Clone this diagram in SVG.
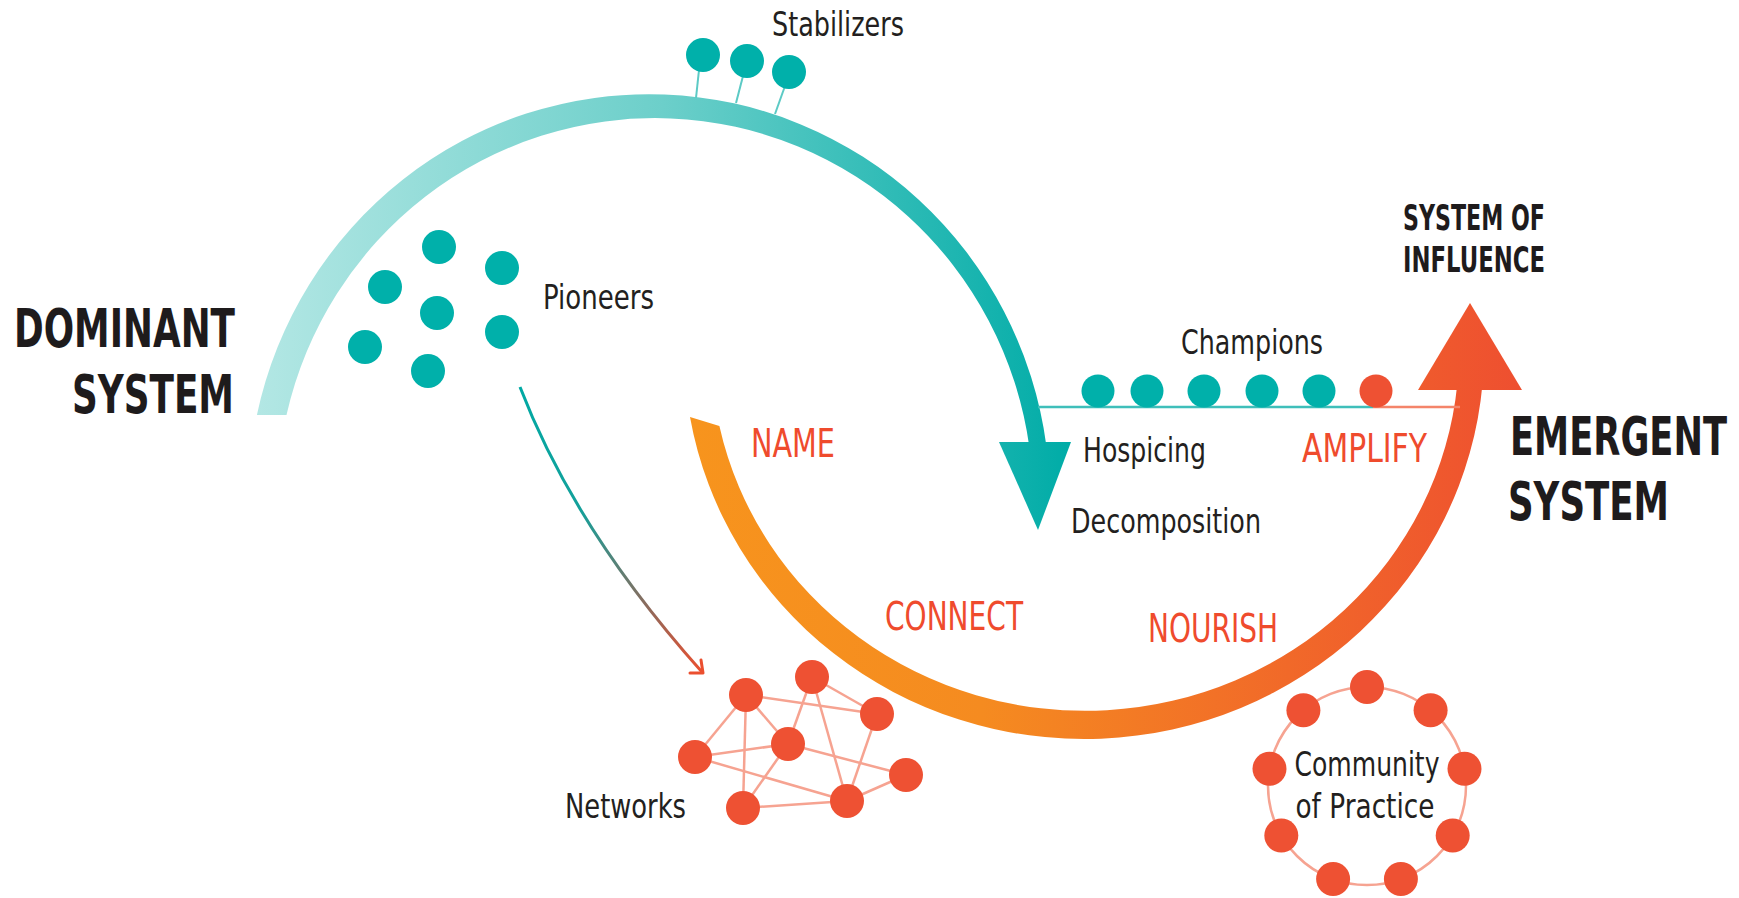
<svg xmlns="http://www.w3.org/2000/svg" width="1739" height="898" viewBox="0 0 1739 898">
<defs>
<linearGradient id="gTeal" gradientUnits="userSpaceOnUse" x1="257" y1="0" x2="1070" y2="0">
<stop offset="0" stop-color="#B3E7E4"/><stop offset="0.5" stop-color="#6CCFCA"/><stop offset="1" stop-color="#00ACA7"/>
</linearGradient>
<linearGradient id="gOrange" gradientUnits="userSpaceOnUse" x1="690" y1="0" x2="1522" y2="0">
<stop offset="0" stop-color="#F7941D"/><stop offset="0.35" stop-color="#F58B20"/><stop offset="1" stop-color="#EE4F30"/>
</linearGradient>
<linearGradient id="gPioneer" gradientUnits="userSpaceOnUse" x1="520" y1="387" x2="702" y2="672">
<stop offset="0" stop-color="#00A9A4"/><stop offset="0.4" stop-color="#14A09A"/><stop offset="0.75" stop-color="#8C6A5C"/><stop offset="1" stop-color="#EB4F2F"/>
</linearGradient>
<style>
.t{fill:#00B0AA}
.r{fill:#EE5133}
.lbl{font-family:"Liberation Sans Narrow","DejaVu Sans Condensed","Liberation Sans",sans-serif;font-size:34px;fill:#231F20}
.red{font-family:"Liberation Sans Narrow","DejaVu Sans Condensed","Liberation Sans",sans-serif;font-size:39px;fill:#EF4B2D}
.big{font-family:"Liberation Sans Narrow","DejaVu Sans Condensed","Liberation Sans",sans-serif;font-size:54px;font-weight:bold;fill:#1E1B1C}
.mid{font-family:"Liberation Sans Narrow","DejaVu Sans Condensed","Liberation Sans",sans-serif;font-size:35px;font-weight:bold;fill:#1E1B1C}
.edge{stroke:#F6A391;stroke-width:2.5;fill:none}
.stem{stroke:#5CCAC5;stroke-width:2;fill:none}
</style>
</defs>
<rect width="1739" height="898" fill="#FFFFFF"/>

<g id="connectors">
<path id="dominant-arc" fill="url(#gTeal)" d="M256.9,415 A401,406 0 0,1 1046.4,446 L1029.2,446 A378,382 0 0,0 286.5,415 Z"/>
<path id="dominant-arrowhead" d="M999,442 L1071,442 L1038,530 Z" fill="url(#gTeal)"/>
<path id="emergent-arc" fill="url(#gOrange)" d="M690,417 A400,389 0 0,0 1482.5,384 L1457.3,384 A374,361 0 0,1 719.4,426 Z"/>
<path id="emergent-arrowhead" d="M1418,390 L1522,390 L1470,303 Z" fill="url(#gOrange)"/>
<path id="pioneer-arrow" d="M520,387 Q575,530 702,672" stroke="url(#gPioneer)" stroke-width="3" fill="none"/>
<path d="M701,660 L703,673 L690,673" stroke="#EB4F2F" stroke-width="3" fill="none" stroke-linecap="round" stroke-linejoin="round"/>
<line x1="1038" y1="407" x2="1373" y2="407" stroke="#3FBFBA" stroke-width="2.5"/>
<line x1="1373" y1="407" x2="1460" y2="407" stroke="#F4846A" stroke-width="2.5"/>
</g>

<g id="dominant-system">
<text class="big" x="14" y="347" textLength="221" lengthAdjust="spacingAndGlyphs">DOMINANT</text>
<text class="big" x="72" y="413" textLength="162" lengthAdjust="spacingAndGlyphs">SYSTEM</text>
</g>

<g id="emergent-system">
<text class="big" x="1727" y="455" text-anchor="end" textLength="217" lengthAdjust="spacingAndGlyphs">EMERGENT</text>
<text class="big" x="1669" y="520" text-anchor="end" textLength="161" lengthAdjust="spacingAndGlyphs">SYSTEM</text>
</g>

<g id="system-of-influence">
<text class="mid" x="1403" y="230" textLength="142" lengthAdjust="spacingAndGlyphs">SYSTEM OF</text>
<text class="mid" x="1403" y="272" textLength="142" lengthAdjust="spacingAndGlyphs">INFLUENCE</text>
</g>

<g id="stabilizers">
<line class="stem" x1="699" y1="70" x2="696" y2="98"/>
<line class="stem" x1="743" y1="76" x2="736" y2="103"/>
<line class="stem" x1="785" y1="86" x2="775" y2="114"/>
<circle class="t" cx="703" cy="55" r="17"/>
<circle class="t" cx="747" cy="61" r="17"/>
<circle class="t" cx="789" cy="72" r="17"/>
<text class="lbl" x="772" y="36" textLength="132" lengthAdjust="spacingAndGlyphs">Stabilizers</text>
</g>

<g id="pioneers">
<circle class="t" cx="439" cy="247" r="17"/>
<circle class="t" cx="502" cy="268" r="17"/>
<circle class="t" cx="385" cy="287" r="17"/>
<circle class="t" cx="437" cy="313" r="17"/>
<circle class="t" cx="502" cy="332" r="17"/>
<circle class="t" cx="365" cy="347" r="17"/>
<circle class="t" cx="428" cy="371" r="17"/>
<text class="lbl" x="543" y="309" textLength="111" lengthAdjust="spacingAndGlyphs">Pioneers</text>
</g>

<g id="champions">
<circle class="t" cx="1098" cy="391" r="16.5"/>
<circle class="t" cx="1147" cy="391" r="16.5"/>
<circle class="t" cx="1204" cy="391" r="16.5"/>
<circle class="t" cx="1262" cy="391" r="16.5"/>
<circle class="t" cx="1319" cy="391" r="16.5"/>
<circle class="r" cx="1376" cy="391" r="16.5"/>
<text class="lbl" x="1181" y="354" textLength="142" lengthAdjust="spacingAndGlyphs">Champions</text>
</g>

<g id="hospicing">
<text class="lbl" x="1083" y="462" textLength="123" lengthAdjust="spacingAndGlyphs">Hospicing</text>
</g>
<g id="decomposition">
<text class="lbl" x="1071" y="533" textLength="190" lengthAdjust="spacingAndGlyphs">Decomposition</text>
</g>

<g id="name"><text class="red" x="751" y="457" textLength="84" lengthAdjust="spacingAndGlyphs">NAME</text></g>
<g id="connect"><text class="red" x="885" y="630" textLength="138" lengthAdjust="spacingAndGlyphs">CONNECT</text></g>
<g id="nourish"><text class="red" x="1148" y="642" textLength="130" lengthAdjust="spacingAndGlyphs">NOURISH</text></g>
<g id="amplify"><text class="red" x="1302" y="462" textLength="125" lengthAdjust="spacingAndGlyphs">AMPLIFY</text></g>

<g id="networks">
<g class="edge">
<line x1="746" y1="695" x2="877" y2="714"/>
<line x1="746" y1="695" x2="695" y2="757"/>
<line x1="746" y1="695" x2="743" y2="808"/>
<line x1="746" y1="695" x2="788" y2="744"/>
<line x1="812" y1="677" x2="788" y2="744"/>
<line x1="812" y1="677" x2="877" y2="714"/>
<line x1="812" y1="677" x2="847" y2="801"/>
<line x1="877" y1="714" x2="847" y2="801"/>
<line x1="788" y1="744" x2="695" y2="757"/>
<line x1="788" y1="744" x2="743" y2="808"/>
<line x1="788" y1="744" x2="906" y2="775"/>
<line x1="695" y1="757" x2="847" y2="801"/>
<line x1="743" y1="808" x2="847" y2="801"/>
<line x1="847" y1="801" x2="906" y2="775"/>
</g>
<circle class="r" cx="746" cy="695" r="17"/>
<circle class="r" cx="812" cy="677" r="17"/>
<circle class="r" cx="877" cy="714" r="17"/>
<circle class="r" cx="788" cy="744" r="17"/>
<circle class="r" cx="695" cy="757" r="17"/>
<circle class="r" cx="743" cy="808" r="17"/>
<circle class="r" cx="847" cy="801" r="17"/>
<circle class="r" cx="906" cy="775" r="17"/>
<text class="lbl" x="565" y="818" textLength="121" lengthAdjust="spacingAndGlyphs">Networks</text>
</g>

<g id="community-of-practice">
<circle class="edge" cx="1367" cy="786" r="99"/>
<circle class="r" cx="1367" cy="687" r="17"/>
<circle class="r" cx="1430.6" cy="710.2" r="17"/>
<circle class="r" cx="1464.5" cy="768.8" r="17"/>
<circle class="r" cx="1452.7" cy="835.5" r="17"/>
<circle class="r" cx="1400.9" cy="879" r="17"/>
<circle class="r" cx="1333.1" cy="879" r="17"/>
<circle class="r" cx="1281.3" cy="835.5" r="17"/>
<circle class="r" cx="1269.5" cy="768.8" r="17"/>
<circle class="r" cx="1303.4" cy="710.2" r="17"/>
<text class="lbl" x="1367" y="776" text-anchor="middle" textLength="145" lengthAdjust="spacingAndGlyphs">Community</text>
<text class="lbl" x="1365" y="818" text-anchor="middle" textLength="139" lengthAdjust="spacingAndGlyphs">of Practice</text>
</g>
</svg>
